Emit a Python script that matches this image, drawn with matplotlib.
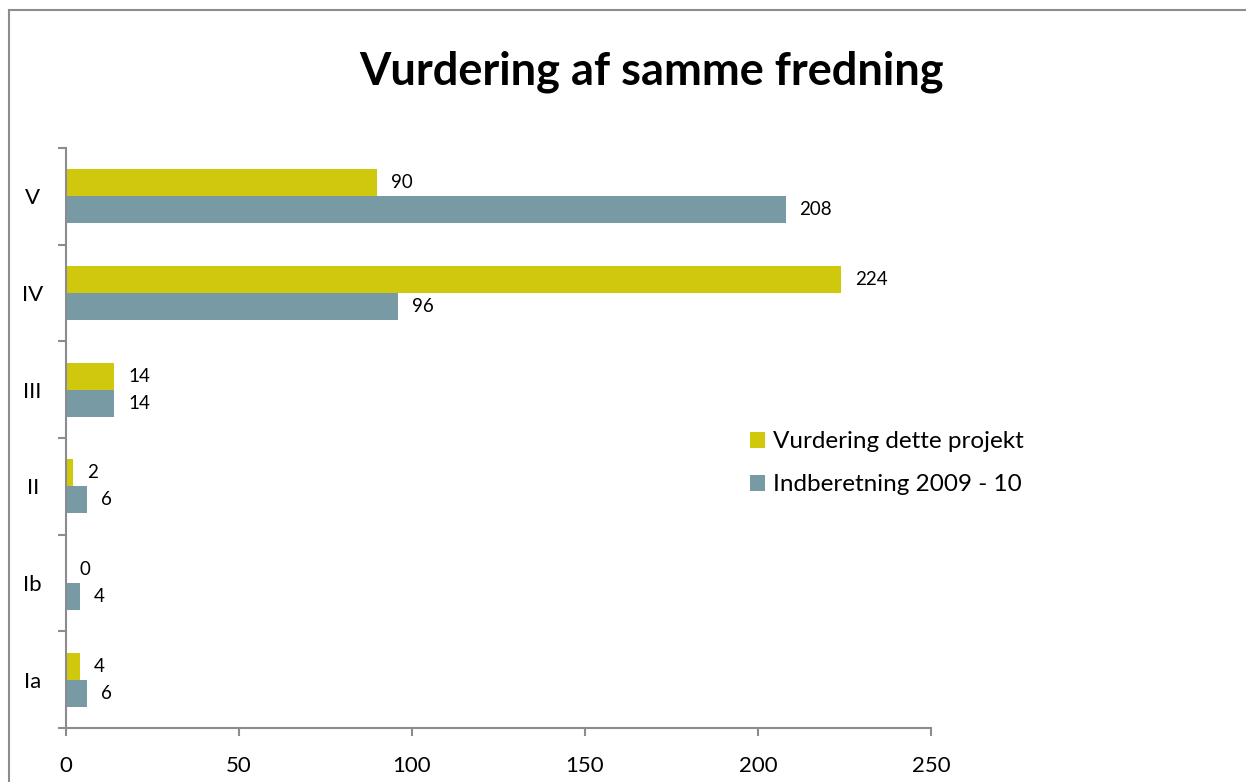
import matplotlib.pyplot as plt
from matplotlib.lines import Line2D
import numpy as np

categories = ["Ia", "Ib", "II", "III", "IV", "V"]
vurdering = [4, 0, 2, 14, 224, 90]        # Vurdering dette projekt
indberetning = [6, 4, 6, 14, 96, 208]     # Indberetning 2009 - 10
x_ticks = [0, 50, 100, 150, 200, 250]

yellow = "#D0C80C"
blue = "#779AA5"
gray = "#8C8C8C"

plt.rcParams['font.family'] = ['Lato', 'DejaVu Sans']

W, H = 1246, 782
fig = plt.figure(figsize=(W / 100, H / 100), dpi=100)
fig.patch.set_facecolor("white")
fig.patch.set_linewidth(0)
ax = fig.add_axes([66 / W, 1 - 728 / H, (931 - 66) / W, (728 - 148) / H])

# outer frame: only top and left edges are visible in the picture
fy, fx = 1 - 9.5 / H, 8.5 / W
fig.lines.append(Line2D([fx, 1.01], [fy, fy], transform=fig.transFigure, color=gray, lw=1.5))
fig.lines.append(Line2D([fx, fx], [-0.01, fy], transform=fig.transFigure, color=gray, lw=1.5))

y = np.arange(len(categories))
h = 0.28
b1 = ax.barh(y + h / 2, vurdering, height=h, color=yellow, label="Vurdering dette projekt")
b2 = ax.barh(y - h / 2, indberetning, height=h, color=blue, label="Indberetning 2009 - 10")

for bars, vals in ((b1, vurdering), (b2, indberetning)):
    for bar, v in zip(bars, vals):
        ax.annotate(str(v), (v, bar.get_y() + bar.get_height() / 2),
                    xytext=(10, 0), textcoords="offset points",
                    va="center", ha="left", fontsize=13.5)

ax.set_ylim(-0.5, len(categories) - 0.5)
ax.set_xlim(0, 250)
ax.set_xticks(x_ticks)
ax.set_yticks(y)
ax.set_yticklabels(categories, ha="center")
ax.set_yticks(np.arange(-0.5, len(categories)), minor=True)
ax.tick_params(axis="y", which="major", length=0, pad=24, labelsize=16)
ax.tick_params(axis="y", which="minor", length=6, color=gray, width=1.5)
ax.tick_params(axis="x", length=6, color=gray, width=1.5, labelsize=16, pad=14)

for s in ("top", "right"):
    ax.spines[s].set_visible(False)
for s in ("left", "bottom"):
    ax.spines[s].set_color(gray)
    ax.spines[s].set_linewidth(1.5)

fig.text(652 / W, 1 - 72 / H, "Vurdering af samme fredning", ha="center", va="center",
         fontsize=32.5, fontweight="bold")

ax.legend(loc="upper left", bbox_to_anchor=(0.765, 0.549), frameon=False,
          fontsize=17.5, handlelength=0.65, handleheight=0.65, handletextpad=0.3,
          labelspacing=0.9)

fig.savefig("out.png", dpi=100)
